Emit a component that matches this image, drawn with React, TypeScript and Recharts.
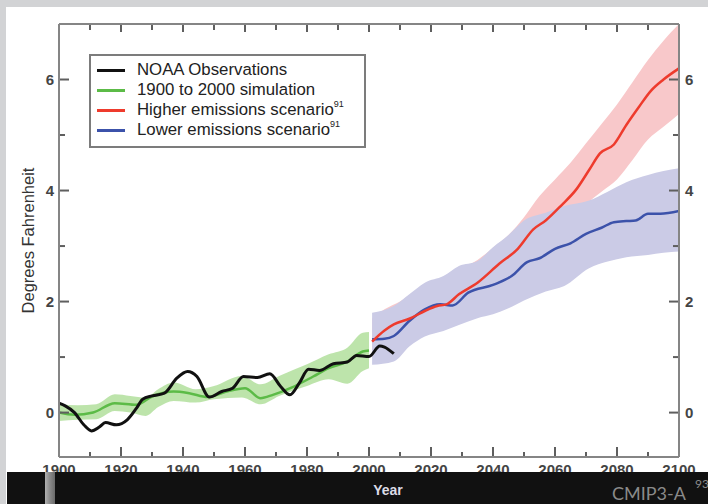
import React from 'react';
import { ComposedChart, Line, Area, XAxis, YAxis, Legend, ReferenceLine } from 'recharts';

// NOAA observations (smoothed), deg F anomaly
const obsYears = [1900, 1902, 1905, 1908, 1910.5, 1913, 1915, 1918.5, 1922, 1925, 1927, 1930, 1934, 1938, 1941.5, 1944.5, 1948.5, 1952.5, 1956, 1959.5, 1964, 1968, 1971.5, 1974.5, 1977.5, 1980.5, 1984, 1988.5, 1993, 1996, 2000, 2003.5, 2005, 2008];
const obsValues = [0.17, 0.12, 0.0, -0.22, -0.33, -0.26, -0.18, -0.22, -0.13, 0.08, 0.24, 0.3, 0.35, 0.62, 0.74, 0.65, 0.28, 0.38, 0.44, 0.65, 0.63, 0.7, 0.47, 0.32, 0.53, 0.78, 0.76, 0.88, 0.91, 1.03, 1.01, 1.2, 1.18, 1.06];

// 1900 to 2000 simulation
const simYears = [1900, 1905, 1911, 1918, 1925, 1930, 1937, 1942, 1948, 1954, 1960, 1965, 1969, 1975, 1982, 1987, 1993, 1998, 2000];
const simValues = [0.0, -0.04, 0.0, 0.17, 0.14, 0.29, 0.38, 0.35, 0.28, 0.38, 0.44, 0.26, 0.32, 0.45, 0.65, 0.8, 0.92, 1.1, 1.12];
const simBandYears = [1900, 1906, 1912, 1918, 1923, 1928, 1932, 1937, 1944, 1950, 1959, 1965, 1971, 1980, 1987, 1993, 1998, 2000];
const simLow = [-0.15, -0.13, -0.12, 0.03, 0.0, -0.06, 0.1, 0.21, 0.18, 0.24, 0.27, 0.15, 0.3, 0.48, 0.6, 0.52, 0.75, 0.8];
const simHigh = [0.15, 0.13, 0.15, 0.33, 0.3, 0.27, 0.42, 0.54, 0.42, 0.48, 0.66, 0.51, 0.66, 0.87, 1.05, 1.17, 1.44, 1.45];

// higher emissions scenario
const hiYears = [2001, 2005, 2008, 2013, 2018, 2022, 2025, 2029, 2035, 2042, 2048, 2053, 2057, 2062, 2067, 2071, 2074.5, 2079, 2083, 2087, 2091, 2095, 2100];
const hiValues = [1.28, 1.48, 1.59, 1.69, 1.83, 1.92, 1.95, 2.13, 2.34, 2.68, 2.95, 3.3, 3.46, 3.73, 4.03, 4.37, 4.67, 4.83, 5.18, 5.5, 5.8, 6.0, 6.2];
const hiBandYears = [2001, 2005, 2010, 2015, 2020, 2025, 2030, 2035, 2040, 2045, 2050, 2055, 2060, 2065, 2070, 2075, 2080, 2085, 2090, 2095, 2100];
const hiLow = [1.0, 1.1, 1.25, 1.35, 1.45, 1.55, 1.75, 1.95, 2.15, 2.4, 2.6, 2.9, 3.15, 3.45, 3.75, 3.98, 4.2, 4.55, 4.92, 5.15, 5.38];
const hiHigh = [1.7, 1.86, 2.0, 2.2, 2.35, 2.45, 2.6, 2.75, 2.97, 3.2, 3.52, 3.9, 4.2, 4.5, 4.85, 5.2, 5.55, 5.95, 6.35, 6.7, 7.0];

// lower emissions scenario
const loYears = [2001, 2005, 2008, 2013, 2018, 2023, 2027, 2032, 2040, 2046, 2051, 2055, 2060, 2065, 2070, 2075, 2079, 2083, 2086, 2090, 2094, 2100];
const loValues = [1.32, 1.33, 1.38, 1.65, 1.86, 1.95, 1.93, 2.16, 2.3, 2.46, 2.71, 2.78, 2.95, 3.05, 3.22, 3.33, 3.43, 3.45, 3.46, 3.58, 3.58, 3.63];
const loBandYears = [2001, 2008, 2013, 2018, 2024, 2029, 2035, 2040, 2045, 2050, 2057, 2063, 2071, 2077, 2083, 2090, 2095, 2100];
const loLow = [0.86, 0.92, 1.19, 1.37, 1.47, 1.58, 1.7, 1.77, 1.88, 2.02, 2.18, 2.28, 2.6, 2.72, 2.8, 2.84, 2.88, 2.9];
const loHigh = [1.8, 1.92, 2.13, 2.34, 2.46, 2.64, 2.73, 2.98, 3.2, 3.46, 3.6, 3.72, 3.82, 3.98, 4.15, 4.28, 4.35, 4.4];

const xLabels = [1900, 1920, 1940, 1960, 1980, 2000, 2020, 2040, 2060, 2080, 2100];
const xMajor = [1920, 1940, 1960, 1980, 2000, 2020, 2040, 2060, 2080];
const xMinor = [1910, 1930, 1950, 1970, 1990, 2010, 2030, 2050, 2070, 2090];
const yMajor = [0, 2, 4, 6];
const yMinor = [1, 3, 5];

const legendNames = ['NOAA Observations', '1900 to 2000 simulation', 'Higher emissions scenario', 'Lower emissions scenario'];
const legendColors = ['#111111', '#5cbb47', '#ee3b2d', '#3c52aa'];
const legendNotes = ['', '', '91', '91'];

const toPoints = (years: number[], values: number[]) => years.map((year, i) => ({ year, value: values[i] }));
const toBand = (years: number[], lo: number[], hi: number[]) => years.map((year, i) => ({ year, range: [lo[i], hi[i]] }));

const AXIS = '#858585';
const TICK = '#5f5f5f';
const LABEL = '#444';
const labelFont = { fontSize: 15, fontWeight: 'bold' as const, fill: LABEL };
const frame = { stroke: AXIS, strokeWidth: 2 };
const X_DOMAIN: [number, number] = [1900, 2100];
const Y_DOMAIN: [number, number] = [-0.8, 7.0];

// plot box is 620 x 433 px; tick lengths are given in px and turned into data units
const PLOT_W = 620;
const PLOT_H = 433;
const pxX = (px: number) => (px * (X_DOMAIN[1] - X_DOMAIN[0])) / PLOT_W;
const pxY = (px: number) => (px * (Y_DOMAIN[1] - Y_DOMAIN[0])) / PLOT_H;

// inward tick marks on all four sides of the frame
const tickSegments: { x1: number; y1: number; x2: number; y2: number }[] = [];
xMajor.forEach((x) => {
  tickSegments.push({ x1: x, y1: Y_DOMAIN[0], x2: x, y2: Y_DOMAIN[0] + pxY(10) });
  tickSegments.push({ x1: x, y1: Y_DOMAIN[1], x2: x, y2: Y_DOMAIN[1] - pxY(8) });
});
xMinor.forEach((x) => {
  tickSegments.push({ x1: x, y1: Y_DOMAIN[0], x2: x, y2: Y_DOMAIN[0] + pxY(5) });
  tickSegments.push({ x1: x, y1: Y_DOMAIN[1], x2: x, y2: Y_DOMAIN[1] - pxY(6) });
});
yMajor.forEach((y) => {
  tickSegments.push({ x1: X_DOMAIN[0], y1: y, x2: X_DOMAIN[0] + pxX(10), y2: y });
  tickSegments.push({ x1: X_DOMAIN[1], y1: y, x2: X_DOMAIN[1] - pxX(10), y2: y });
});
yMinor.forEach((y) => {
  tickSegments.push({ x1: X_DOMAIN[0], y1: y, x2: X_DOMAIN[0] + pxX(6), y2: y });
  tickSegments.push({ x1: X_DOMAIN[1], y1: y, x2: X_DOMAIN[1] - pxX(6), y2: y });
});

// axes are mirrored (no space taken); labels are pushed back outside the frame
const BottomLabel = (p: any) => (
  <text x={p.x} y={Number(p.y) + 10 + 18} textAnchor="middle" {...labelFont}>
    {p.payload.value}
  </text>
);
const LeftLabel = (p: any) => (
  <text x={Number(p.x) - 10 - 5} y={p.y} dy="0.36em" textAnchor="end" {...labelFont}>
    {p.payload.value}
  </text>
);
const RightLabel = (p: any) => (
  <text x={Number(p.x) + 10 + 6} y={p.y} dy="0.36em" textAnchor="start" {...labelFont}>
    {p.payload.value}
  </text>
);

const renderLegend = () => (
  <div
    style={{
      boxSizing: 'border-box',
      width: 277,
      height: 94,
      border: '2px solid #7c7c7c',
      background: '#fff',
      padding: '4px 0 0 6px',
      fontFamily: '"Liberation Sans", Arial, sans-serif',
      fontSize: 16.8,
      color: '#222',
    }}
  >
    {legendNames.map((name, i) => (
      <div key={name} style={{ display: 'flex', alignItems: 'center', height: 20 }}>
        <span style={{ display: 'inline-block', width: 28, height: 3, background: legendColors[i], marginRight: 12 }} />
        <span style={{ whiteSpace: 'nowrap' }}>
          {name}
          {legendNotes[i] && <sup style={{ fontSize: 9, verticalAlign: 'top', position: 'relative', top: -1 }}>{legendNotes[i]}</sup>}
        </span>
      </div>
    ))}
  </div>
);

export default function App() {
  return (
    <div
      style={{
        position: 'fixed',
        left: 0,
        top: 0,
        width: 708,
        height: 504,
        overflow: 'hidden',
        background: '#d2d3d5',
        fontFamily: '"Liberation Sans", Arial, sans-serif',
      }}
    >
      <div style={{ position: 'absolute', left: 6, top: 7, right: 0, bottom: 0, background: '#fff' }} />
      <div style={{ position: 'absolute', left: 0, top: 0 }}>
        <ComposedChart width={708} height={504} margin={{ top: 24, right: 29, bottom: 47, left: 59 }}>
          <XAxis dataKey="year" type="number" domain={X_DOMAIN} allowDataOverflow mirror height={1} ticks={xLabels} interval={0} tickSize={10} tickMargin={0} tickLine={false} axisLine={frame} tick={BottomLabel} />
          <XAxis xAxisId="top" orientation="top" dataKey="year" type="number" domain={X_DOMAIN} allowDataOverflow mirror height={1} ticks={xLabels} interval={0} tickLine={false} axisLine={frame} tick={false} />
          <YAxis
            type="number"
            domain={Y_DOMAIN}
            allowDataOverflow
            mirror
            width={1}
            ticks={yMajor}
            interval={0}
            tickSize={10}
            tickMargin={0}
            tickLine={false}
            axisLine={frame}
            tick={LeftLabel}
            label={{
              value: 'Degrees Fahrenheit',
              angle: -90,
              position: 'insideLeft',
              offset: -31,
              style: { textAnchor: 'middle', fill: '#333', fontSize: 16.5 },
            }}
          />
          <YAxis yAxisId="right" orientation="right" type="number" domain={Y_DOMAIN} allowDataOverflow mirror width={1} ticks={yMajor} interval={0} tickSize={10} tickMargin={0} tickLine={false} axisLine={frame} tick={RightLabel} />

          <Area data={toBand(hiBandYears, hiLow, hiHigh)} dataKey="range" type="monotone" stroke="none" fill="#f8c8ca" fillOpacity={1} legendType="none" isAnimationActive={false} />
          <Area data={toBand(loBandYears, loLow, loHigh)} dataKey="range" type="monotone" stroke="none" fill="#cbcbe6" fillOpacity={1} legendType="none" isAnimationActive={false} />
          <Area data={toBand(simBandYears, simLow, simHigh)} dataKey="range" type="monotone" stroke="none" fill="#b6e1a2" fillOpacity={0.9} legendType="none" isAnimationActive={false} />
          <Line data={toPoints(loYears, loValues)} dataKey="value" name={legendNames[3]} type="monotone" stroke={legendColors[3]} strokeWidth={2.5} dot={false} activeDot={false} isAnimationActive={false} />
          <Line data={toPoints(hiYears, hiValues)} dataKey="value" name={legendNames[2]} type="monotone" stroke={legendColors[2]} strokeWidth={2.5} dot={false} activeDot={false} isAnimationActive={false} />
          <Line data={toPoints(simYears, simValues)} dataKey="value" name={legendNames[1]} type="monotone" stroke={legendColors[1]} strokeWidth={2.5} dot={false} activeDot={false} isAnimationActive={false} />
          <Line data={toPoints(obsYears, obsValues)} dataKey="value" name={legendNames[0]} type="monotone" stroke={legendColors[0]} strokeWidth={3} dot={false} activeDot={false} isAnimationActive={false} />

          {tickSegments.map((s, i) => (
            <ReferenceLine
              key={i}
              segment={[{ x: s.x1, y: s.y1 }, { x: s.x2, y: s.y2 }]}
              stroke={TICK}
              strokeWidth={2}
              ifOverflow="visible"
            />
          ))}

          <Legend
            layout="vertical"
            align="center"
            verticalAlign="middle"
            wrapperStyle={{ left: 89, top: 54, width: 277, height: 94 }}
            content={renderLegend}
          />
        </ComposedChart>
      </div>
      <div style={{ position: 'absolute', left: 7, top: 472, width: 701, height: 32, background: '#111' }} />
      <div style={{ position: 'absolute', left: 45, top: 472, width: 10, height: 32, background: 'linear-gradient(90deg, #b0b0b0, #8c8c8c 45%, #6a6a6a)' }} />
      <div style={{ position: 'absolute', left: 368, top: 482, width: 40, textAlign: 'center', fontSize: 14, fontWeight: 'bold', color: '#dcdce6' }}>Year</div>
      <div style={{ position: 'absolute', left: 612, top: 484, fontFamily: 'Lato, "Open Sans", sans-serif', fontSize: 18, color: '#8a8a8a', lineHeight: '18px', whiteSpace: 'nowrap' }}>
        CMIP3-A
      </div>
      <div style={{ position: 'absolute', left: 695, top: 479, fontFamily: 'Lato, "Open Sans", sans-serif', fontSize: 12, color: '#8a8a8a', lineHeight: '10px' }}>
        93
      </div>
    </div>
  );
}
